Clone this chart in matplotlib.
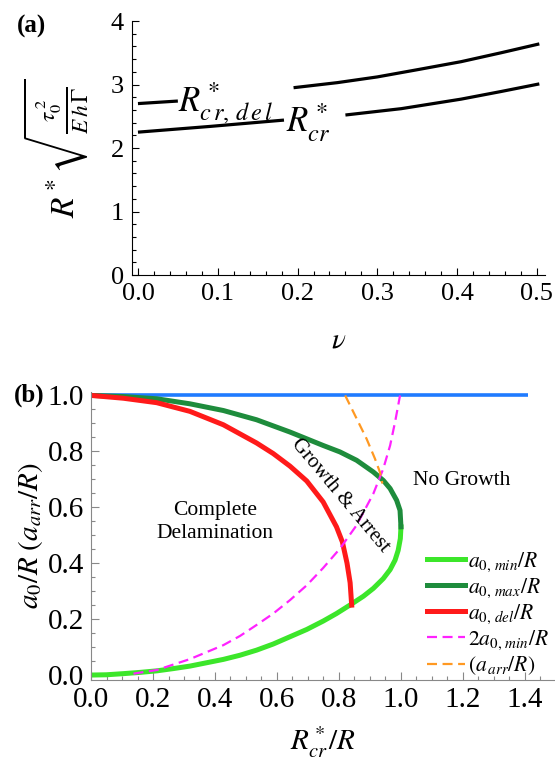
import numpy as np
import matplotlib.pyplot as plt
from matplotlib.ticker import MultipleLocator

plt.rcParams['font.family'] = ['Liberation Serif', 'DejaVu Serif']
plt.rcParams['mathtext.fontset'] = 'stix'
plt.rcParams['lines.solid_joinstyle'] = 'round'
plt.rcParams['lines.dash_joinstyle'] = 'round'

# (a) critical radii vs Poisson's ratio (curves broken where the labels sit)
nu_del_1 = [0.0, 0.05]
r_del_1 = [2.70, 2.74]
nu_del_2 = [0.195, 0.25, 0.30, 0.353, 0.405, 0.455, 0.503]
r_del_2 = [2.95, 3.03, 3.12, 3.24, 3.36, 3.50, 3.64]
nu_cr_1 = [0.0, 0.09, 0.183]
r_cr_1 = [2.25, 2.34, 2.44]
nu_cr_2 = [0.26, 0.33, 0.405, 0.455, 0.503]
r_cr_2 = [2.52, 2.62, 2.77, 2.89, 3.01]

# (b) regime map
x_min = [0.0, 0.05, 0.104, 0.158, 0.212, 0.265, 0.319, 0.373, 0.427, 0.481,
         0.534, 0.588, 0.642, 0.696, 0.749, 0.792, 0.835, 0.879, 0.911,
         0.943, 0.965, 0.981, 0.991, 0.998, 1.0]
a_min = [0.0, 0.001, 0.005, 0.0095, 0.015, 0.023, 0.032, 0.044, 0.056, 0.071,
         0.089, 0.111, 0.137, 0.163, 0.193, 0.220, 0.25, 0.282, 0.310,
         0.345, 0.377, 0.411, 0.446, 0.488, 0.53]
x_max = [0.0, 0.104, 0.212, 0.319, 0.427, 0.534, 0.642, 0.749, 0.803, 0.857,
         0.911, 0.943, 0.965, 0.986, 0.997, 1.0]
a_max = [1.0, 0.996, 0.988, 0.970, 0.946, 0.913, 0.869, 0.821, 0.798, 0.768,
         0.726, 0.696, 0.667, 0.625, 0.589, 0.53]
x_del = [0.0, 0.104, 0.212, 0.319, 0.427, 0.534, 0.588, 0.642, 0.696, 0.749,
         0.792, 0.811, 0.826, 0.836, 0.841]
a_del = [1.0, 0.990, 0.974, 0.943, 0.895, 0.830, 0.792, 0.747, 0.694, 0.619,
         0.53, 0.476, 0.40, 0.33, 0.25]
x_2min = [0.137, 0.212, 0.319, 0.427, 0.481, 0.534, 0.588, 0.642, 0.696,
          0.749, 0.803, 0.857, 0.911, 0.943, 0.965, 0.981, 0.991, 0.997]
a_2min = [0.005, 0.018, 0.057, 0.107, 0.140, 0.179, 0.220, 0.268, 0.321,
          0.383, 0.452, 0.536, 0.649, 0.738, 0.821, 0.905, 0.964, 1.0]
x_arr = [0.82, 0.857, 0.889, 0.916, 0.932, 0.94]
a_arr = [1.0, 0.917, 0.845, 0.774, 0.726, 0.685]
x_top = [0.0, 1.41]
a_top = [1.0, 1.0]

fig = plt.figure(figsize=(5.55, 7.65), dpi=100)

# ---- panel (a)
ax1 = fig.add_axes([0.2378, 0.6405, 0.744, 0.332])
ax1.plot(nu_del_1, r_del_1, color='black', lw=2.3, solid_capstyle='butt')
ax1.plot(nu_del_2, r_del_2, color='black', lw=2.3, solid_capstyle='butt')
ax1.plot(nu_cr_1, r_cr_1, color='black', lw=2.3, solid_capstyle='butt')
ax1.plot(nu_cr_2, r_cr_2, color='black', lw=2.3, solid_capstyle='butt')
ax1.text(0.05, 2.58, r'$R^*_{c\,r,\,d\,e\,l}$', fontsize=25, ha='left', va='baseline')
ax1.text(0.185, 2.25, r'$R^*_{cr}$', fontsize=25, ha='left', va='baseline')

ax1.set_xlim(-0.0075, 0.51)
ax1.set_ylim(0, 4.0)
ax1.xaxis.set_major_locator(MultipleLocator(0.1))
ax1.xaxis.set_minor_locator(MultipleLocator(0.02))
ax1.yaxis.set_major_locator(MultipleLocator(1))
ax1.yaxis.set_minor_locator(MultipleLocator(0.2))
ax1.xaxis.set_major_formatter(plt.FuncFormatter(lambda v, p: f'{v:.1f}'))
ax1.tick_params(which='both', direction='in', labelsize=19, pad=6)
ax1.tick_params(which='major', length=5, width=0.8)
ax1.tick_params(which='minor', length=3, width=0.8)
for s in ['top', 'right']:
    ax1.spines[s].set_visible(False)
ax1.set_xlabel(r'$\nu$', fontsize=21, labelpad=16)
ax1.set_ylabel(r'$R^*\sqrt{\frac{\tau_0^{\,2}}{E\,h\,\Gamma}}$', fontsize=24, labelpad=14)

# ---- panel (b)
ax2 = fig.add_axes([0.164, 0.111, 0.836, 0.3765])
ax2.plot(x_top, a_top, color='#1f7bff', lw=2.6, solid_capstyle='butt')
ax2.plot(x_min, a_min, color='#3ce62a', lw=3.6, label=r'$a_{0,\,min}/R$')
ax2.plot(x_max, a_max, color='#1e8c3c', lw=3.6, label=r'$a_{0,\,max}/R$')
ax2.plot(x_del, a_del, color='#ff1a1a', lw=3.6, label=r'$a_{0,\,del}/R$')
ax2.plot(x_2min, a_2min, color='#ff22ff', lw=1.6, ls=(0, (4.5, 2.5)),
         label=r'$2a_{0,\,min}/R$')
ax2.plot(x_arr, a_arr, color='#ff9922', lw=1.6, ls=(0, (4.5, 2.5)),
         label=r'$(a_{\,arr}/R)$')

ax2.text(0.40, 0.548, 'Complete\nDelamination', fontsize=15.5, ha='center',
         va='center', linespacing=1.3)
ax2.text(1.197, 0.696, 'No Growth', fontsize=15.5, ha='center', va='center')
ax2.text(0.805, 0.643, 'Growth & Arrest', fontsize=15, ha='center',
         va='center', rotation=-50, rotation_mode='anchor')

ax2.legend(loc='lower left', bbox_to_anchor=(0.725, 0.01), frameon=False,
           fontsize=15.5, handlelength=1.75, handletextpad=0.15,
           labelspacing=0.12, borderpad=0, borderaxespad=0)

ax2.set_xlim(0, 1.497)
ax2.set_ylim(-0.018, 1.012)
ax2.xaxis.set_major_locator(MultipleLocator(0.2))
ax2.xaxis.set_minor_locator(MultipleLocator(0.05))
ax2.yaxis.set_major_locator(MultipleLocator(0.2))
ax2.yaxis.set_minor_locator(MultipleLocator(0.05))
ax2.xaxis.set_major_formatter(plt.FuncFormatter(lambda v, p: f'{v:.1f}'))
ax2.yaxis.set_major_formatter(plt.FuncFormatter(lambda v, p: f'{v:.1f}'))
ax2.tick_params(which='both', direction='in', labelsize=21, pad=5,
                color='#888888')
ax2.tick_params(which='major', length=6, width=0.8)
ax2.tick_params(which='minor', length=3, width=0.8)
for s in ['top', 'right']:
    ax2.spines[s].set_visible(False)
for s in ['left', 'bottom']:
    ax2.spines[s].set_color('#888888')
ax2.set_xlabel(r'$R^*_{cr}/R$', fontsize=21, labelpad=8)
ax2.set_ylabel(r'$a_0/R\ (a_{arr}/R)$', fontsize=21, labelpad=2)

fig.text(0.056, 0.965, '(a)', fontsize=18, fontweight='bold', ha='center', va='center')
fig.text(0.052, 0.4837, '(b)', fontsize=18, fontweight='bold', ha='center', va='center')

fig.savefig('out.png', dpi=100)
